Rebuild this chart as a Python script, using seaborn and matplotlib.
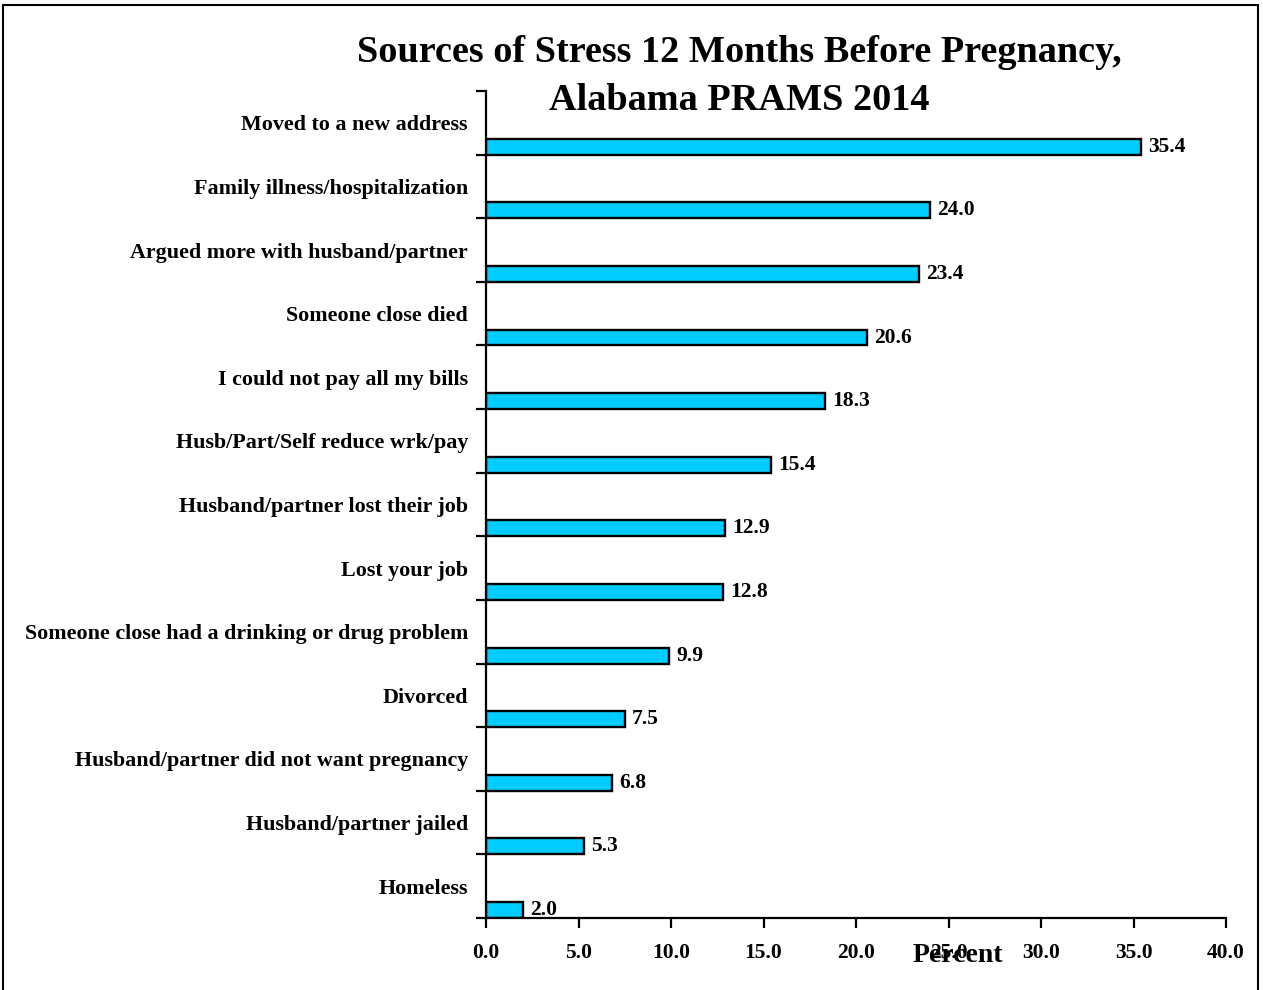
import numpy as np
import pandas as pd
import matplotlib
matplotlib.use("Agg")
import matplotlib.pyplot as plt
import matplotlib.patches as mpatches
import seaborn as sns

categories = [
    "Moved to a new address",
    "Family illness/hospitalization",
    "Argued more with husband/partner",
    "Someone close died",
    "I could not pay all my bills",
    "Husb/Part/Self reduce wrk/pay",
    "Husband/partner lost their job",
    "Lost your job",
    "Someone close had a drinking or drug problem",
    "Divorced",
    "Husband/partner did not want pregnancy",
    "Husband/partner jailed",
    "Homeless",
]
percent = [35.4, 24.0, 23.4, 20.6, 18.3, 15.4, 12.9, 12.8, 9.9, 7.5, 6.8, 5.3, 2.0]
x_ticks = [0, 5, 10, 15, 20, 25, 30, 35, 40]

df = pd.DataFrame({"category": categories, "percent": percent})

sns.set_style("white")
plt.rcParams["font.family"] = ["Liberation Serif", "DejaVu Serif"]
plt.rcParams["font.weight"] = "bold"
plt.rcParams["text.color"] = "black"
plt.rcParams["xtick.color"] = "black"
plt.rcParams["ytick.color"] = "black"
plt.rcParams["axes.labelcolor"] = "black"

fig = plt.figure(figsize=(12.63, 9.9), dpi=100)
ax = fig.add_axes([486 / 1263, 1 - 918 / 990, 740 / 1263, 827 / 990])

bar_w = 0.25
sns.barplot(data=df, x="percent", y="category", orient="h", color="#00CCFF",
            saturation=1, width=bar_w, edgecolor="black", linewidth=1.7, ax=ax)

n = len(categories)
ax.set_xlim(0, 40)
ax.set_ylim(n - 1 + bar_w / 2, -1 + bar_w / 2)

# value labels
for i, v in enumerate(percent):
    ax.text(v + 0.4, i, f"{v:.1f}", va="center", ha="left", fontsize=15.5,
            fontweight="bold")

# category labels at band centres, tick marks at band boundaries
ax.set_yticks([i + bar_w / 2 - 0.5 for i in range(n)])
ax.set_yticklabels(categories, fontsize=15.8, fontweight="bold")
ax.set_yticks([i + bar_w / 2 for i in range(-1, n)], minor=True)
ax.tick_params(axis="y", which="major", length=0, pad=13)
ax.tick_params(axis="y", which="minor", direction="out", length=7, width=1.6,
               color="black", left=True)

ax.set_xticks(x_ticks)
ax.set_xticklabels([f"{t:.1f}" for t in x_ticks], fontsize=15.5, fontweight="bold")
ax.tick_params(axis="x", direction="out", length=7, width=1.6, color="black",
               bottom=True, pad=11)

ax.set_ylabel("")
ax.set_xlabel("Percent", fontsize=20, fontweight="bold", va="center")
ax.xaxis.set_label_coords(0.638, -0.045)

for side in ["top", "right"]:
    ax.spines[side].set_visible(False)
for side in ["left", "bottom"]:
    ax.spines[side].set_color("black")
    ax.spines[side].set_linewidth(1.6)

fig.text(739 / 1263, 1 - 53 / 990, "Sources of Stress 12 Months Before Pregnancy,",
         ha="center", va="center", fontsize=27.5, fontweight="bold")
fig.text(739 / 1263, 1 - 100 / 990, "Alabama PRAMS 2014",
         ha="center", va="center", fontsize=27.5, fontweight="bold")

frame = mpatches.Rectangle((3 / 1263, -0.02), 1255 / 1263, 1 - 5 / 990 + 0.02,
                           transform=fig.transFigure, fill=False,
                           edgecolor="black", linewidth=1.5)
fig.patches.append(frame)

fig.savefig("out.png", dpi=100)
